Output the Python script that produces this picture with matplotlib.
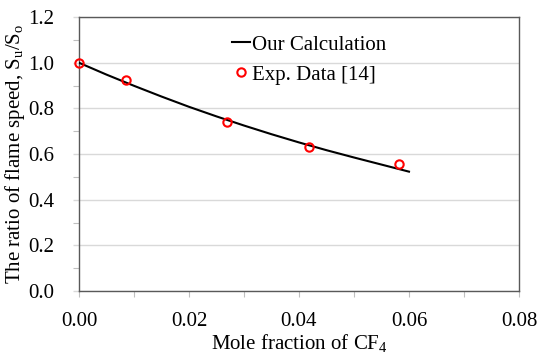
import matplotlib
matplotlib.use("Agg")
import matplotlib.pyplot as plt
from matplotlib.ticker import MultipleLocator

# Calculated laminar flame speed ratio vs CF4 mole fraction
calc_x = [0.000, 0.005, 0.010, 0.015, 0.020, 0.025, 0.030, 0.035, 0.040, 0.045, 0.050, 0.055, 0.060]
calc_y = [1.000, 0.948, 0.899, 0.852, 0.807, 0.765, 0.725, 0.687, 0.651, 0.617, 0.585, 0.554, 0.523]

# Experimental data [14]
exp_x = [0.0000, 0.0086, 0.0270, 0.0419, 0.0581]
exp_y = [1.000, 0.924, 0.742, 0.632, 0.558]

x_ticks = [0.00, 0.02, 0.04, 0.06, 0.08]
x_tick_labels = ["0.00", "0.02", "0.04", "0.06", "0.08"]
y_ticks = [0.0, 0.2, 0.4, 0.6, 0.8, 1.0, 1.2]
y_tick_labels = ["0.0", "0.2", "0.4", "0.6", "0.8", "1.0", "1.2"]

plt.rcParams["font.family"] = ["Liberation Serif", "DejaVu Serif"]
plt.rcParams["mathtext.fontset"] = "custom"
plt.rcParams["mathtext.rm"] = "Liberation Serif"
plt.rcParams["mathtext.it"] = "Liberation Serif"

fig = plt.figure(figsize=(5.37, 3.55), dpi=100)
ax = fig.add_axes([0.147, 0.180, 0.8195, 0.772])

grid_c = "#d9d9d9"
spine_c = "#595959"

ax.set_xlim(0, 0.08)
ax.set_ylim(0, 1.2)
ax.yaxis.grid(True, color=grid_c, linewidth=1.0, zorder=0)
ax.set_axisbelow(True)

ax.plot(calc_x, calc_y, color="black", linewidth=1.5, label="Our Calculation", zorder=3)
ax.plot(exp_x, exp_y, linestyle="none", marker="o", markersize=6,
        markerfacecolor="none", markeredgecolor="#ff0000", markeredgewidth=1.5,
        label="Exp. Data [14]", zorder=4, clip_on=False)

ax.set_xticks(x_ticks)
ax.set_xticklabels(x_tick_labels)
ax.set_yticks(y_ticks)
ax.set_yticklabels(y_tick_labels)
ax.xaxis.set_minor_locator(MultipleLocator(0.01))
ax.yaxis.set_minor_locator(MultipleLocator(0.1))

ax.tick_params(axis="x", which="both", direction="out", length=4, width=0.8,
               color="#bfbfbf", pad=11, labelsize=15)
ax.tick_params(axis="y", which="major", direction="out", length=4.5, width=1.0,
               color=grid_c, pad=13, labelsize=15)
ax.tick_params(axis="y", which="minor", direction="out", length=4, width=0.8,
               color="#bfbfbf")

for s in ax.spines.values():
    s.set_color(spine_c)
    s.set_linewidth(1.0)

ax.set_xlabel("Mole fraction of CF$_4$", fontsize=15, labelpad=1)
ax.set_ylabel("The ratio of flame speed, S$_u$/S$_o$", fontsize=15, labelpad=1)

leg = ax.legend(loc="upper left", bbox_to_anchor=(0.33, 0.965), frameon=False,
                fontsize=15, handlelength=0.85, handletextpad=0.1,
                labelspacing=0.5, borderaxespad=0)

fig.savefig("out.png", dpi=100)
